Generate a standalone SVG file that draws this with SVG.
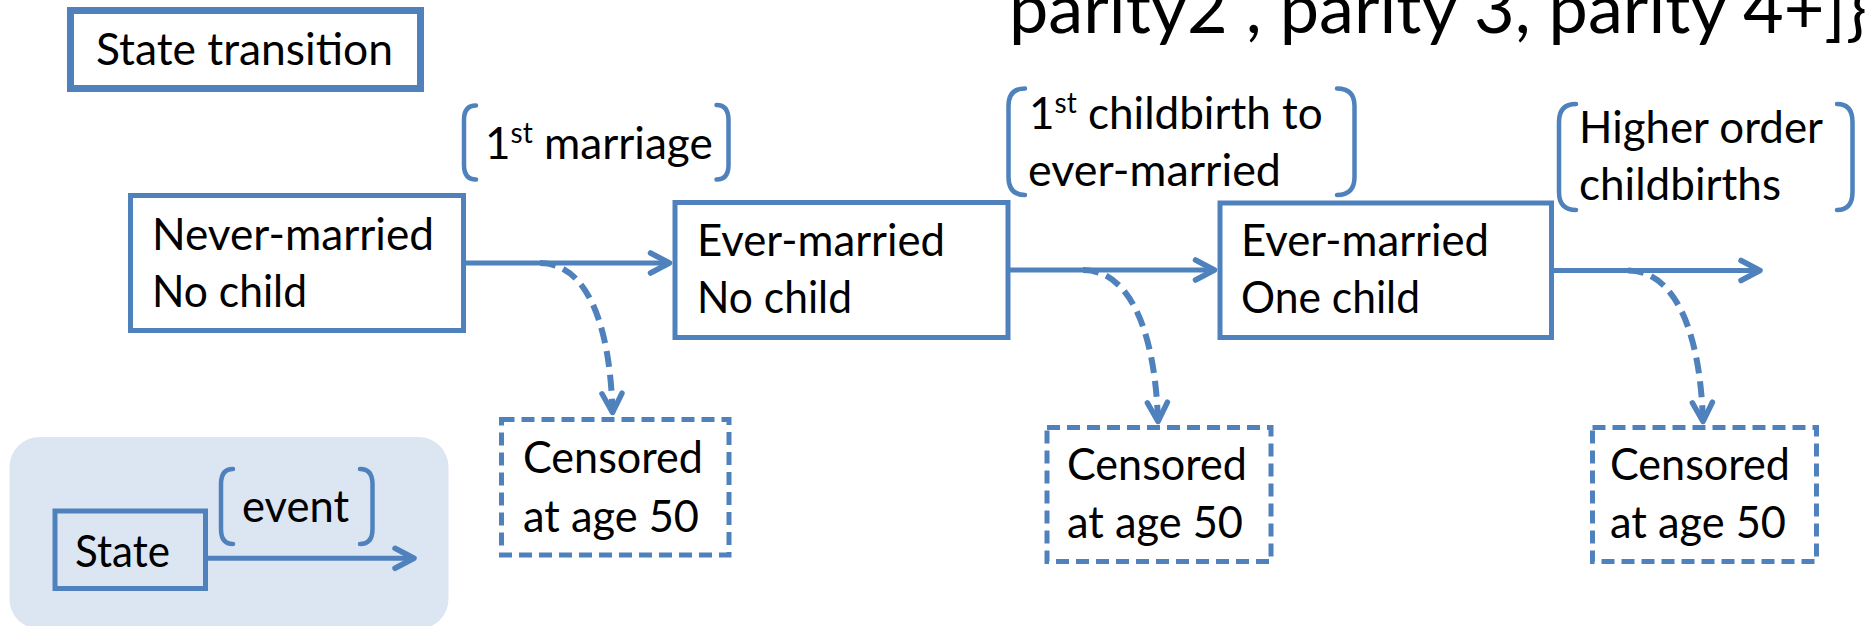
<svg xmlns="http://www.w3.org/2000/svg" width="1865" height="626" viewBox="0 0 1865 626">
<defs>
<style>
.t{font-family:Lato,"Liberation Sans",sans-serif;font-size:44px;fill:#000}
.sup{font-size:28px}
.title{font-family:Lato,"Liberation Sans",sans-serif;font-size:70px;fill:#000}
.box{fill:#fff;stroke:#4f81bd;stroke-width:5}
.cens{fill:#fff;stroke:#4f81bd;stroke-width:5;stroke-dasharray:13 7}
.br{fill:none;stroke:#4f81bd;stroke-width:4.5;stroke-linecap:round}
.ln{fill:none;stroke:#4f81bd;stroke-width:5;marker-end:url(#ah)}
.dl{fill:none;stroke:#4f81bd;stroke-width:6;stroke-dasharray:16 8;marker-end:url(#ah)}
</style>
<marker id="ah" markerUnits="userSpaceOnUse" markerWidth="40" markerHeight="40" viewBox="-30 -20 40 40" refX="0" refY="0" orient="auto" overflow="visible">
<path d="M -19 -10 L 0 0 L -19 10" fill="none" stroke="#4f81bd" stroke-width="5.5" stroke-linecap="round" stroke-linejoin="round" stroke-dasharray="none"/>
</marker>
</defs>
<rect width="1865" height="626" fill="#fff"/>

<g id="title">
<text class="title" x="1009" y="33" textLength="858" lengthAdjust="spacingAndGlyphs">parity2 , parity 3, parity 4+]}</text>
</g>

<g id="header">
<rect x="70.5" y="10.5" width="350" height="78" fill="#fff" stroke="#4f81bd" stroke-width="7"/>
<text class="t" x="96" y="65" textLength="297" lengthAdjust="spacingAndGlyphs">State transition</text>
</g>

<g id="legend">
<rect x="9.5" y="437" width="439" height="192" rx="30" fill="#dce6f2"/>
<rect x="55" y="511" width="150.5" height="77.5" fill="#dce6f2" stroke="#4f81bd" stroke-width="5"/>
<text class="t" x="75" y="567" textLength="95" lengthAdjust="spacingAndGlyphs">State</text>
<path class="br" d="M 233 469 Q 221 469 221 484 L 221 529 Q 221 544 233 544"/>
<path class="br" d="M 360 469 Q 372.5 469 372.5 484 L 372.5 529 Q 372.5 544 360 544"/>
<text class="t" x="242" y="522" textLength="107" lengthAdjust="spacingAndGlyphs">event</text>
<path class="ln" d="M 208 558.3 L 414 558.3"/>
</g>

<g id="never-married">
<rect class="box" x="130.5" y="195.5" width="333" height="135"/>
<text class="t" x="152" y="250" textLength="282" lengthAdjust="spacingAndGlyphs">Never-married</text>
<text class="t" x="152" y="307" textLength="155" lengthAdjust="spacingAndGlyphs">No child</text>
</g>

<g id="ever-married-no-child">
<rect class="box" x="675" y="202.5" width="333" height="135"/>
<text class="t" x="697" y="256" textLength="248" lengthAdjust="spacingAndGlyphs">Ever-married</text>
<text class="t" x="697" y="313" textLength="155" lengthAdjust="spacingAndGlyphs">No child</text>
</g>

<g id="ever-married-one-child">
<rect class="box" x="1220" y="203" width="331.5" height="134.5"/>
<text class="t" x="1241" y="256" textLength="248" lengthAdjust="spacingAndGlyphs">Ever-married</text>
<text class="t" x="1241" y="313" textLength="179" lengthAdjust="spacingAndGlyphs">One child</text>
</g>

<g id="censored-1">
<rect class="cens" x="501.5" y="419.5" width="227.5" height="135.5"/>
<text class="t" x="523" y="473" textLength="180" lengthAdjust="spacingAndGlyphs">Censored</text>
<text class="t" x="523" y="532" textLength="176" lengthAdjust="spacingAndGlyphs">at age 50</text>
</g>

<g id="censored-2">
<rect class="cens" x="1047" y="427.5" width="224" height="134"/>
<text class="t" x="1067" y="480" textLength="180" lengthAdjust="spacingAndGlyphs">Censored</text>
<text class="t" x="1067" y="538" textLength="176" lengthAdjust="spacingAndGlyphs">at age 50</text>
</g>

<g id="censored-3">
<rect class="cens" x="1592.5" y="427.5" width="224" height="134"/>
<text class="t" x="1610" y="480" textLength="180" lengthAdjust="spacingAndGlyphs">Censored</text>
<text class="t" x="1610" y="538" textLength="176" lengthAdjust="spacingAndGlyphs">at age 50</text>
</g>

<g id="label-marriage">
<path class="br" d="M 476 105.5 Q 464 105.5 464 120 L 464 165 Q 464 179.5 476 179.5"/>
<path class="br" d="M 716.5 105 Q 728.5 105 728.5 120 L 728.5 165 Q 728.5 179.5 716.5 179.5"/>
<text class="t" x="485" y="159">1<tspan class="sup" dy="-16">st</tspan><tspan dy="16" textLength="180" lengthAdjust="spacingAndGlyphs"> marriage</tspan></text>
</g>

<g id="label-childbirth">
<path class="br" d="M 1025 88.5 Q 1008.5 88.5 1008.5 106 L 1008.5 177 Q 1008.5 195 1025 195"/>
<path class="br" d="M 1337 88.5 Q 1354.5 88.5 1354.5 106 L 1354.5 177 Q 1354.5 195 1337 195"/>
<text class="t" x="1029" y="129">1<tspan class="sup" dy="-16">st</tspan><tspan dy="16" textLength="246" lengthAdjust="spacingAndGlyphs"> childbirth to</tspan></text>
<text class="t" x="1028" y="186" textLength="253" lengthAdjust="spacingAndGlyphs">ever-married</text>
</g>

<g id="label-higher">
<path class="br" d="M 1576 104 Q 1559 104 1559 122 L 1559 192 Q 1559 210 1576 210"/>
<path class="br" d="M 1837 104 Q 1852.5 104 1852.5 122 L 1852.5 192 Q 1852.5 210 1837 210"/>
<text class="t" x="1579" y="143" textLength="244" lengthAdjust="spacingAndGlyphs">Higher order</text>
<text class="t" x="1579" y="200" textLength="202" lengthAdjust="spacingAndGlyphs">childbirths</text>
</g>

<g id="connectors">
<path class="ln" d="M 466 263 L 669.5 263"/>
<path class="ln" d="M 1010 270 L 1214.5 270"/>
<path class="ln" d="M 1554 270.5 L 1760 270.5"/>
<path class="dl" d="M 540 263 C 585 263 610 320 612.5 412.5"/>
<path class="dl" d="M 1083 270 C 1128 270 1155 327 1158 421.5"/>
<path class="dl" d="M 1628 270.5 C 1673 270.5 1700 327 1703 421.5"/>
</g>
</svg>
